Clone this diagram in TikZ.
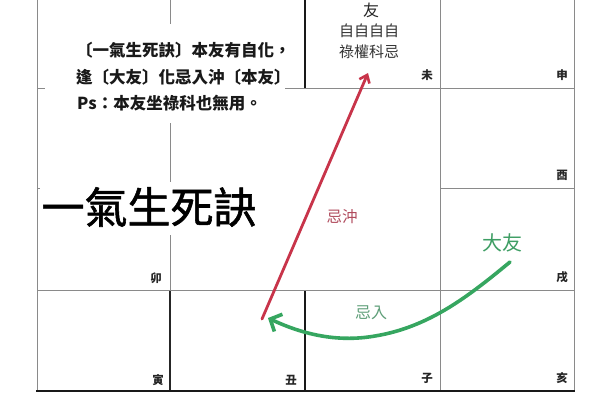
\documentclass[tikz,border=0pt]{standalone}
\usepackage{fontspec}
\setmainfont{Noto Sans CJK TC}
\newfontfamily\cjk{Noto Sans CJK TC}
\newfontfamily\cjktitle[FakeBold=1.3]{Noto Sans CJK TC}
\usetikzlibrary{arrows.meta}
\definecolor{gridgrey}{HTML}{8A8A8A}
\definecolor{redarrow}{HTML}{C8344A}
\definecolor{redtext}{HTML}{B04A5C}
\definecolor{greenarrow}{HTML}{36A660}
\definecolor{greentext}{HTML}{3E9E64}
\definecolor{greenlight}{HTML}{5E9E78}
\tikzset{
  thin grid/.style={draw=gridgrey, line width=0.9pt},
  dark grid/.style={draw=black!85, line width=1.4pt},
  heavy grid/.style={draw=black!90, line width=2.4pt},
  branch/.style={font=\cjk\bfseries\fontsize{11.5}{11.5}\selectfont, inner sep=0pt, text=black!85},
  para/.style={font=\cjk\bfseries\fontsize{16.5}{16.5}\selectfont, inner sep=0pt, anchor=west, text=black!90},
  cover/.style={fill=white, draw=none},
}
\begin{document}
\begin{tikzpicture}[x=1pt,y=-1pt]
\useasboundingbox (0,0) rectangle (600,400);
\fill[white] (0,0) rectangle (600,400);
% grid
\draw[thin grid] (37,0) -- (37,391);
\draw[thin grid] (574,0) -- (574,391);
\draw[thin grid] (440,0) -- (440,391);
\draw[thin grid] (170,0) -- (170,290);
\draw[dark grid] (170,290) -- (170,391);
\draw[heavy grid] (305,0) -- (305,88);
\draw[heavy grid] (305,290) -- (305,391);
\draw[thin grid] (37,88) -- (574,88);
\draw[thin grid] (37,188) -- (170,188);
\draw[thin grid] (440,188) -- (574,188);
\draw[thin grid] (37,290) -- (574,290);
\draw[heavy grid] (36,391) -- (575,391);
% white covers behind texts
\fill[cover] (45,24) rectangle (285,123);
\fill[cover] (40,182) rectangle (262,235);
% paragraph
\node[para] (l1) at (76,50) {〔一氣生死訣〕本友有自化，};
\node[para] (l2) at (76,77) {逢〔大友〕化忌入沖〔本友〕};
\node[para] (l3) at (77,103) {Ps：本友坐祿科也無用。};
% title
\node[font=\cjktitle\fontsize{43}{43}\selectfont, inner sep=0pt] (title) at (149,207) {一氣生死訣};
% palace 未 content
\node[font=\cjk\fontsize{16}{16}\selectfont, inner sep=0pt, text=black!85] (you) at (371,10) {友};
\node[font=\cjk\fontsize{15}{15}\selectfont, inner sep=0pt, text=black!80] (zi) at (369,31) {自自自自};
\node[font=\cjk\fontsize{15}{15}\selectfont, inner sep=0pt, text=black!80] (lu) at (369,52) {祿權科忌};
% branch labels
\node[branch] (wei) at (427,75) {未};
\node[branch] (shen) at (562,75) {申};
\node[branch] (you2) at (562,175) {酉};
\node[branch] (xu) at (562,277) {戌};
\node[branch] (mao) at (156,278) {卯};
\node[branch] (yin) at (158,380) {寅};
\node[branch] (chou) at (291,380) {丑};
\node[branch] (zi2) at (427,378) {子};
\node[branch] (hai) at (562,378) {亥};
% arrows
\coordinate (rs) at (262,319);
\coordinate (re) at (368,73);
\draw[redarrow, line width=2.8pt, line cap=round, -{Straight Barb[length=7pt,width=11pt,line width=2.6pt]}] (rs) -- (re);
\node[font=\cjk\fontsize{15.5}{15.5}\selectfont, inner sep=0pt, text=redtext] (jichong) at (342,217) {忌沖};
\coordinate (gs) at (510,262);
\coordinate (gm) at (375,336);
\coordinate (ge) at (268,318);
\draw[greenarrow, line width=3.6pt, line cap=round, -{Straight Barb[length=9pt,width=19pt,line width=3.6pt]}]
  (gs) .. controls (470,295) and (430,327) .. (gm) .. controls (335,343) and (300,333) .. (ge);
\node[font=\cjk\fontsize{20}{20}\selectfont, inner sep=0pt, text=greentext] (dayou) at (502,243) {大友};
\node[font=\cjk\fontsize{16}{16}\selectfont, inner sep=0pt, text=greenlight] (jiru) at (371,313) {忌入};
\end{tikzpicture}
\end{document}
